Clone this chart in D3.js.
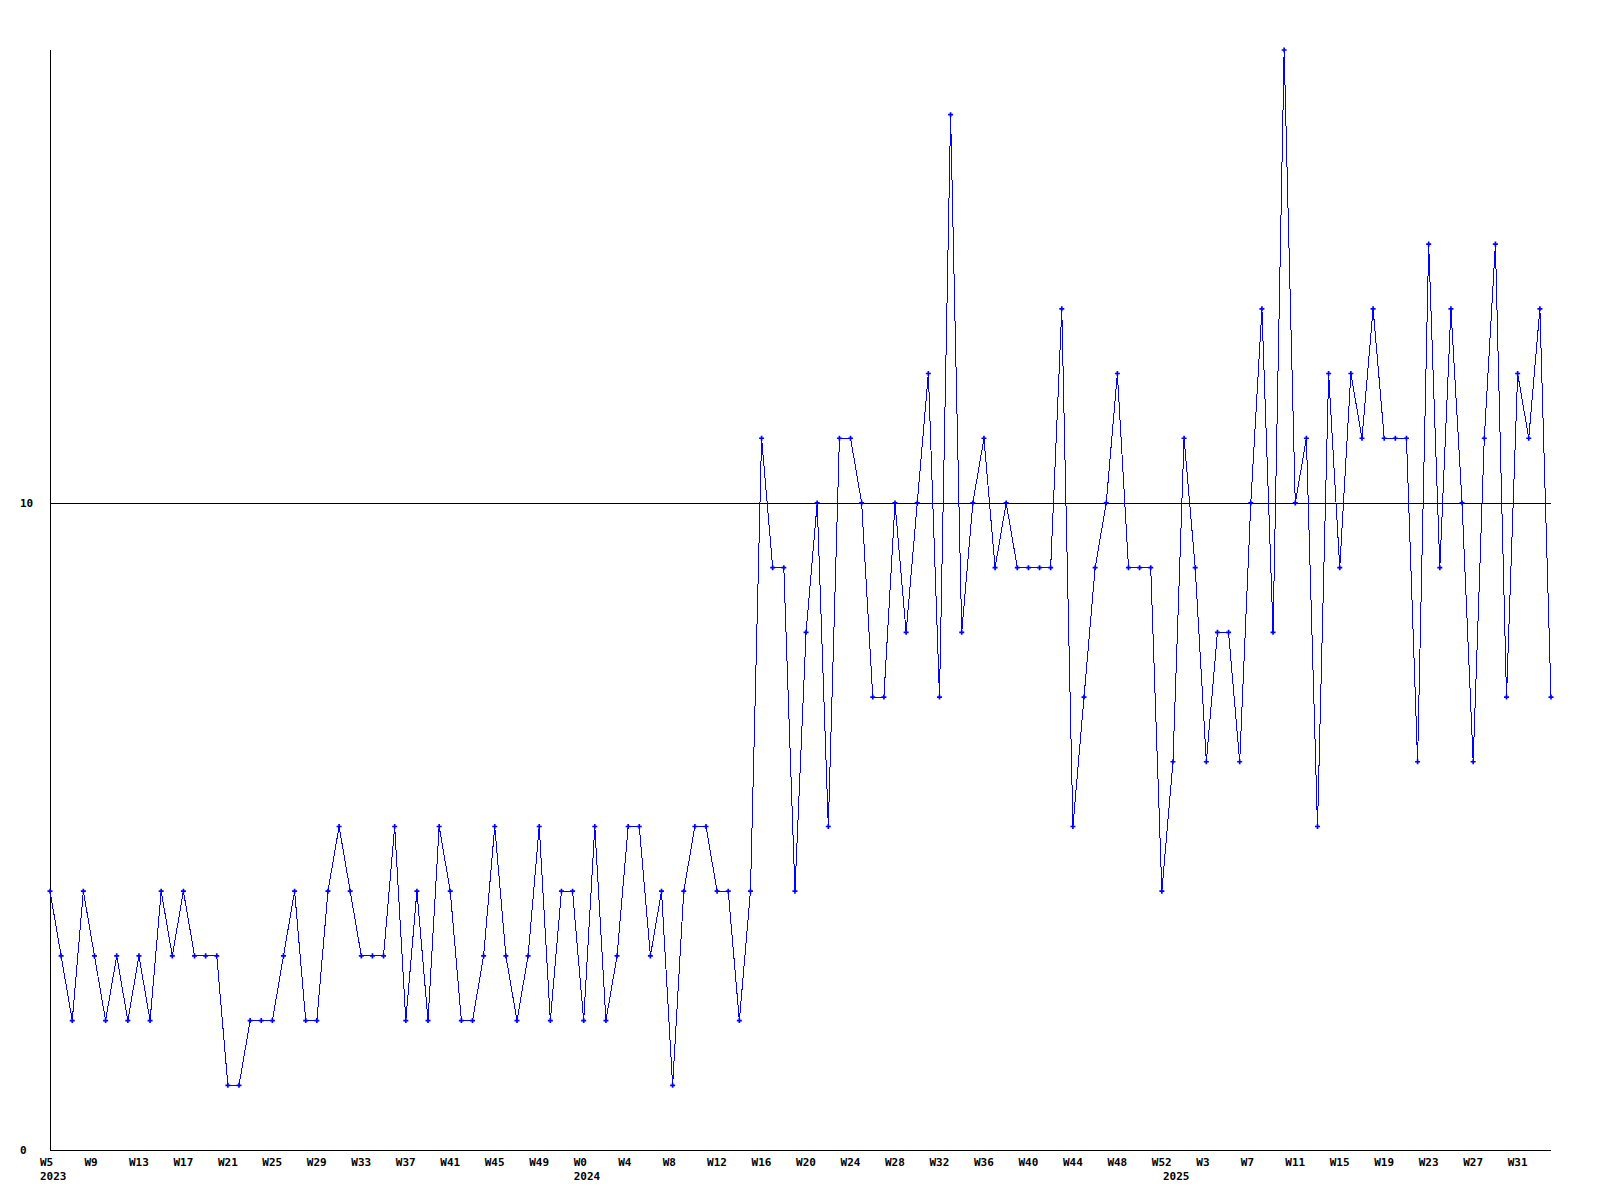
<!DOCTYPE html>
<html>
<head>
<meta charset="utf-8">
<script src="https://cdn.jsdelivr.net/npm/d3@7"></script>
<style>
  html, body { margin: 0; padding: 0; background: #ffffff; }
  svg { display: block; }
  text { font-family: "DejaVu Sans Mono", "Liberation Mono", monospace; font-weight: bold; font-size: 11px; fill: #000; }
</style>
</head>
<body>
<svg id="chart" width="1600" height="1200"></svg>
<script>
// ---- data ----
const yearList = [2023, 2024, 2025];
const firstWeek = [5, 0, 0];
const lastWeek = [52, 52, 34];

const values = [
  4, 3, 2, 4, 3, 2, 3, 2, 3, 2, 4, 3, 4, 3, 3, 3, 1, 1, 2, 2,
  2, 3, 4, 2, 2, 4, 5, 4, 3, 3, 3, 5, 2, 4, 2, 5, 4, 2, 2, 3,
  5, 3, 2, 3, 5, 2, 4, 4, 2, 5, 2, 3, 5, 5, 3, 4, 1, 4, 5, 5,
  4, 4, 2, 4, 11, 9, 9, 4, 8, 10, 5, 11, 11, 10, 7, 7, 10, 8, 10, 12,
  7, 16, 8, 10, 11, 9, 10, 9, 9, 9, 9, 13, 5, 7, 9, 10, 12, 9, 9, 9,
  4, 6, 11, 9, 6, 8, 8, 6, 10, 13, 8, 17, 10, 11, 5, 12, 9, 12, 11, 13,
  11, 11, 11, 6, 14, 9, 13, 10, 6, 11, 14, 7, 12, 11, 13, 7
];
const yTicks = [0, 10];
const refLines = [10];
const yMax = 17;
const labelEvery = 4;

// ---- categories ----
const periods = [];
yearList.forEach((yr, k) => {
  for (let w = firstWeek[k]; w <= lastWeek[k]; w++) {
    periods.push({ key: yr + "-W" + w, year: yr, week: w });
  }
});
const data = periods.map((p, i) => ({ ...p, value: values[i], idx: i }));

// ---- layout ----
const svg = d3.select("#chart");
const plotLeft = 50, plotRight = 1551, plotTop = 50, plotBottom = 1150;

const x = d3.scalePoint().domain(data.map(d => d.key)).range([plotLeft, plotRight]);
const y = d3.scaleLinear().domain([0, yMax]).range([plotBottom, plotTop]);

// axes lines
svg.append("line")
  .attr("x1", plotLeft + 0.5).attr("x2", plotLeft + 0.5)
  .attr("y1", plotTop).attr("y2", plotBottom + 0.5)
  .attr("stroke", "#000").attr("stroke-width", 1)
  .attr("shape-rendering", "crispEdges");
svg.append("line")
  .attr("x1", plotLeft).attr("x2", plotRight)
  .attr("y1", plotBottom + 0.5).attr("y2", plotBottom + 0.5)
  .attr("stroke", "#000").attr("stroke-width", 1)
  .attr("shape-rendering", "crispEdges");

// reference lines
svg.selectAll("line.ref").data(refLines).enter().append("line")
  .attr("class", "ref")
  .attr("x1", plotLeft).attr("x2", plotRight)
  .attr("y1", d => Math.round(y(d)) + 0.5).attr("y2", d => Math.round(y(d)) + 0.5)
  .attr("stroke", "#000").attr("stroke-width", 1)
  .attr("shape-rendering", "crispEdges");

// y tick labels
svg.selectAll("text.ytick").data(yTicks).enter().append("text")
  .attr("class", "ytick")
  .attr("x", 20)
  .attr("y", d => Math.round(y(d)) + 4)
  .text(d => d);

// x tick labels
const labelled = data.filter(d => d.idx % labelEvery === 0);
svg.selectAll("text.xtick").data(labelled).enter().append("text")
  .attr("class", "xtick")
  .attr("x", d => x(d.key) - 10)
  .attr("y", plotBottom + 16)
  .text(d => "W" + d.week);

// year labels at first period of each year
const yearStartsData = data.filter((d, i) => i === 0 || d.year !== data[i - 1].year);
svg.selectAll("text.year").data(yearStartsData).enter().append("text")
  .attr("class", "year")
  .attr("x", d => x(d.key) - 10)
  .attr("y", plotBottom + 30)
  .text(d => d.year);

// series line
const line = d3.line().x(d => x(d.key)).y(d => y(d.value));
svg.append("path")
  .datum(data)
  .attr("d", line)
  .attr("fill", "none")
  .attr("stroke", "#0000ff")
  .attr("stroke-width", 1)
  .attr("shape-rendering", "crispEdges");

// markers
svg.selectAll("path.pt").data(data).enter().append("path")
  .attr("class", "pt")
  .attr("transform", d => `translate(${x(d.key)},${y(d.value)})`)
  .attr("d", d3.symbol(d3.symbolCross, 14))
  .attr("fill", "#0000ff");
</script>
</body>
</html>
